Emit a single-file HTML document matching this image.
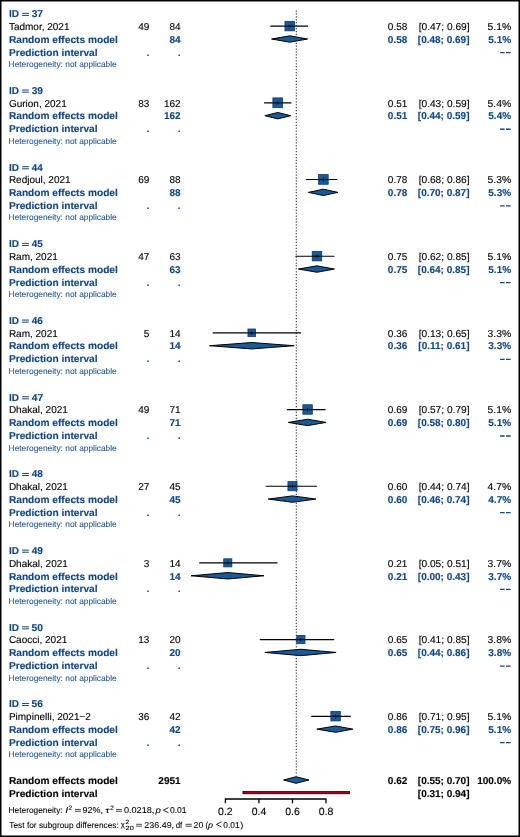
<!DOCTYPE html><html><head><meta charset="utf-8"><style>html,body{margin:0;padding:0;background:#fff;}svg{display:block;will-change:transform;}text{font-family:"Liberation Sans",sans-serif;text-rendering:geometricPrecision;}.b{font-weight:bold}.r{text-anchor:end}.m{text-anchor:middle}</style></head><body>
<svg width="520" height="837" viewBox="0 0 520 837" font-size="10">
<rect x="0" y="0" width="520" height="837" fill="#fff"/>
<line x1="296.30" y1="10.4" x2="296.30" y2="775.5" stroke="#3c3c3c" stroke-width="1.15" stroke-dasharray="1.25 1.68"/>
<text x="8.90" y="17.20" class="b" fill="#104683" stroke="#104683" stroke-width="0.12">ID</text>
<path d="M22.10 13.35H28.90M22.10 15.45H28.90" stroke="#104683" stroke-width="1.00" fill="none"/>
<text x="31.67" y="17.20" font-size="10" font-weight="bold" fill="#104683" stroke="#104683" stroke-width="0.12" textLength="11.38" lengthAdjust="spacingAndGlyphs">37</text>
<text x="8.90" y="29.98" stroke="#000" stroke-width="0.12">Tadmor, 2021</text>
<text x="149.40" y="29.98" class="r" stroke="#000" stroke-width="0.12">49</text>
<text x="180.60" y="29.98" class="r" stroke="#000" stroke-width="0.12">84</text>
<text x="407.30" y="29.98" class="r" stroke="#000" stroke-width="0.12">0.58</text>
<text x="418.68" y="29.98" font-size="10" stroke="#000" stroke-width="0.12" textLength="50.84" lengthAdjust="spacingAndGlyphs">[0.47; 0.69]</text>
<text x="487.52" y="29.98" font-size="10" stroke="#000" stroke-width="0.12" textLength="23.70" lengthAdjust="spacingAndGlyphs">5.1%</text>
<text x="8.92" y="42.76" font-size="10" font-weight="bold" fill="#104683" stroke="#104683" stroke-width="0.12" textLength="108.90" lengthAdjust="spacingAndGlyphs">Random effects model</text>
<text x="180.60" y="42.76" class="b r" fill="#104683" stroke="#104683" stroke-width="0.12">84</text>
<text x="407.30" y="42.76" class="b r" fill="#104683" stroke="#104683" stroke-width="0.12">0.58</text>
<text x="469.50" y="42.76" class="b r" fill="#104683" stroke="#104683" stroke-width="0.12">[0.48; 0.69]</text>
<text x="511.10" y="42.76" class="b r" fill="#104683" stroke="#104683" stroke-width="0.12">5.1%</text>
<text x="8.92" y="55.54" font-size="10" font-weight="bold" fill="#104683" stroke="#104683" stroke-width="0.12" textLength="88.70" lengthAdjust="spacingAndGlyphs">Prediction interval</text>
<text x="149.40" y="55.54" class="b r" fill="#104683" stroke="#104683" stroke-width="0.12">.</text>
<text x="180.60" y="55.54" class="b r" fill="#104683" stroke="#104683" stroke-width="0.12">.</text>
<path d="M500.1 52.59H504.6M506.0 52.59H510.6" stroke="#104683" stroke-width="1.3" fill="none"/>
<text x="8.62" y="67.12" font-size="8.4" fill="#1f5590" stroke="#1f5590" stroke-width="0.08" textLength="108.16" lengthAdjust="spacingAndGlyphs">Heterogeneity: not applicable</text>
<line x1="270.78" y1="26.18" x2="307.57" y2="26.18" stroke="#000" stroke-width="1.15" stroke-linecap="round"/>
<rect x="284.94" y="21.34" width="9.48" height="9.48" fill="#185b97" stroke="#0a3a70" stroke-width="0.8"/>
<line x1="284.94" y1="26.18" x2="294.43" y2="26.18" stroke="#000" stroke-width="1.15"/>
<path d="M289.69 24.08L290.44 26.18L289.69 28.28L288.94 26.18Z" fill="#000"/>
<path d="M271.56 39.01L289.69 35.81L307.57 39.01L289.69 42.21Z" fill="#185b97" stroke="#000" stroke-width="1" stroke-linejoin="miter" stroke-miterlimit="20"/>
<text x="8.90" y="93.88" class="b" fill="#104683" stroke="#104683" stroke-width="0.12">ID</text>
<path d="M22.10 90.03H28.90M22.10 92.13H28.90" stroke="#104683" stroke-width="1.00" fill="none"/>
<text x="31.67" y="93.88" font-size="10" font-weight="bold" fill="#104683" stroke="#104683" stroke-width="0.12" textLength="11.31" lengthAdjust="spacingAndGlyphs">39</text>
<text x="8.90" y="106.66" stroke="#000" stroke-width="0.12">Gurion, 2021</text>
<text x="149.40" y="106.66" class="r" stroke="#000" stroke-width="0.12">83</text>
<text x="180.60" y="106.66" class="r" stroke="#000" stroke-width="0.12">162</text>
<text x="407.30" y="106.66" class="r" stroke="#000" stroke-width="0.12">0.51</text>
<text x="418.68" y="106.66" font-size="10" stroke="#000" stroke-width="0.12" textLength="50.84" lengthAdjust="spacingAndGlyphs">[0.43; 0.59]</text>
<text x="487.52" y="106.66" font-size="10" stroke="#000" stroke-width="0.12" textLength="23.70" lengthAdjust="spacingAndGlyphs">5.4%</text>
<text x="8.92" y="119.44" font-size="10" font-weight="bold" fill="#104683" stroke="#104683" stroke-width="0.12" textLength="108.90" lengthAdjust="spacingAndGlyphs">Random effects model</text>
<text x="180.60" y="119.44" class="b r" fill="#104683" stroke="#104683" stroke-width="0.12">162</text>
<text x="407.30" y="119.44" class="b r" fill="#104683" stroke="#104683" stroke-width="0.12">0.51</text>
<text x="469.50" y="119.44" class="b r" fill="#104683" stroke="#104683" stroke-width="0.12">[0.44; 0.59]</text>
<text x="511.10" y="119.44" class="b r" fill="#104683" stroke="#104683" stroke-width="0.12">5.4%</text>
<text x="8.92" y="132.22" font-size="10" font-weight="bold" fill="#104683" stroke="#104683" stroke-width="0.12" textLength="88.70" lengthAdjust="spacingAndGlyphs">Prediction interval</text>
<text x="149.40" y="132.22" class="b r" fill="#104683" stroke="#104683" stroke-width="0.12">.</text>
<text x="180.60" y="132.22" class="b r" fill="#104683" stroke="#104683" stroke-width="0.12">.</text>
<path d="M500.1 129.27H504.6M506.0 129.27H510.6" stroke="#104683" stroke-width="1.3" fill="none"/>
<text x="8.62" y="143.80" font-size="8.4" fill="#1f5590" stroke="#1f5590" stroke-width="0.08" textLength="108.16" lengthAdjust="spacingAndGlyphs">Heterogeneity: not applicable</text>
<line x1="264.42" y1="102.86" x2="291.06" y2="102.86" stroke="#000" stroke-width="1.15" stroke-linecap="round"/>
<rect x="272.90" y="97.88" width="9.76" height="9.76" fill="#185b97" stroke="#0a3a70" stroke-width="0.8"/>
<line x1="272.90" y1="102.86" x2="282.66" y2="102.86" stroke="#000" stroke-width="1.15"/>
<path d="M277.78 100.76L278.53 102.86L277.78 104.96L277.03 102.86Z" fill="#000"/>
<path d="M264.85 115.69L277.78 112.49L290.80 115.69L277.78 118.89Z" fill="#185b97" stroke="#000" stroke-width="1" stroke-linejoin="miter" stroke-miterlimit="20"/>
<text x="8.90" y="170.56" class="b" fill="#104683" stroke="#104683" stroke-width="0.12">ID</text>
<path d="M22.10 166.71H28.90M22.10 168.81H28.90" stroke="#104683" stroke-width="1.00" fill="none"/>
<text x="31.75" y="170.56" font-size="10" font-weight="bold" fill="#104683" stroke="#104683" stroke-width="0.12" textLength="10.90" lengthAdjust="spacingAndGlyphs">44</text>
<text x="8.90" y="183.34" stroke="#000" stroke-width="0.12">Redjoul, 2021</text>
<text x="149.40" y="183.34" class="r" stroke="#000" stroke-width="0.12">69</text>
<text x="180.60" y="183.34" class="r" stroke="#000" stroke-width="0.12">88</text>
<text x="407.30" y="183.34" class="r" stroke="#000" stroke-width="0.12">0.78</text>
<text x="418.68" y="183.34" font-size="10" stroke="#000" stroke-width="0.12" textLength="50.84" lengthAdjust="spacingAndGlyphs">[0.68; 0.86]</text>
<text x="487.52" y="183.34" font-size="10" stroke="#000" stroke-width="0.12" textLength="23.70" lengthAdjust="spacingAndGlyphs">5.3%</text>
<text x="8.92" y="196.12" font-size="10" font-weight="bold" fill="#104683" stroke="#104683" stroke-width="0.12" textLength="108.90" lengthAdjust="spacingAndGlyphs">Random effects model</text>
<text x="180.60" y="196.12" class="b r" fill="#104683" stroke="#104683" stroke-width="0.12">88</text>
<text x="407.30" y="196.12" class="b r" fill="#104683" stroke="#104683" stroke-width="0.12">0.78</text>
<text x="469.50" y="196.12" class="b r" fill="#104683" stroke="#104683" stroke-width="0.12">[0.70; 0.87]</text>
<text x="511.10" y="196.12" class="b r" fill="#104683" stroke="#104683" stroke-width="0.12">5.3%</text>
<text x="8.92" y="208.90" font-size="10" font-weight="bold" fill="#104683" stroke="#104683" stroke-width="0.12" textLength="88.70" lengthAdjust="spacingAndGlyphs">Prediction interval</text>
<text x="149.40" y="208.90" class="b r" fill="#104683" stroke="#104683" stroke-width="0.12">.</text>
<text x="180.60" y="208.90" class="b r" fill="#104683" stroke="#104683" stroke-width="0.12">.</text>
<path d="M500.1 205.95H504.6M506.0 205.95H510.6" stroke="#104683" stroke-width="1.3" fill="none"/>
<text x="8.62" y="220.48" font-size="8.4" fill="#1f5590" stroke="#1f5590" stroke-width="0.08" textLength="108.16" lengthAdjust="spacingAndGlyphs">Heterogeneity: not applicable</text>
<line x1="306.49" y1="179.54" x2="336.87" y2="179.54" stroke="#000" stroke-width="1.15" stroke-linecap="round"/>
<rect x="318.52" y="174.61" width="9.67" height="9.67" fill="#185b97" stroke="#0a3a70" stroke-width="0.8"/>
<line x1="318.52" y1="179.54" x2="328.19" y2="179.54" stroke="#000" stroke-width="1.15"/>
<path d="M323.35 177.44L324.10 179.54L323.35 181.64L322.60 179.54Z" fill="#000"/>
<path d="M308.45 192.37L323.35 189.17L337.76 192.37L323.35 195.57Z" fill="#185b97" stroke="#000" stroke-width="1" stroke-linejoin="miter" stroke-miterlimit="20"/>
<text x="8.90" y="247.24" class="b" fill="#104683" stroke="#104683" stroke-width="0.12">ID</text>
<path d="M22.10 243.39H28.90M22.10 245.49H28.90" stroke="#104683" stroke-width="1.00" fill="none"/>
<text x="31.75" y="247.24" font-size="10" font-weight="bold" fill="#104683" stroke="#104683" stroke-width="0.12" textLength="11.13" lengthAdjust="spacingAndGlyphs">45</text>
<text x="8.90" y="260.02" stroke="#000" stroke-width="0.12">Ram, 2021</text>
<text x="149.40" y="260.02" class="r" stroke="#000" stroke-width="0.12">47</text>
<text x="180.60" y="260.02" class="r" stroke="#000" stroke-width="0.12">63</text>
<text x="407.30" y="260.02" class="r" stroke="#000" stroke-width="0.12">0.75</text>
<text x="418.68" y="260.02" font-size="10" stroke="#000" stroke-width="0.12" textLength="50.84" lengthAdjust="spacingAndGlyphs">[0.62; 0.85]</text>
<text x="487.52" y="260.02" font-size="10" stroke="#000" stroke-width="0.12" textLength="23.70" lengthAdjust="spacingAndGlyphs">5.1%</text>
<text x="8.92" y="272.80" font-size="10" font-weight="bold" fill="#104683" stroke="#104683" stroke-width="0.12" textLength="108.90" lengthAdjust="spacingAndGlyphs">Random effects model</text>
<text x="180.60" y="272.80" class="b r" fill="#104683" stroke="#104683" stroke-width="0.12">63</text>
<text x="407.30" y="272.80" class="b r" fill="#104683" stroke="#104683" stroke-width="0.12">0.75</text>
<text x="469.50" y="272.80" class="b r" fill="#104683" stroke="#104683" stroke-width="0.12">[0.64; 0.85]</text>
<text x="511.10" y="272.80" class="b r" fill="#104683" stroke="#104683" stroke-width="0.12">5.1%</text>
<text x="8.92" y="285.58" font-size="10" font-weight="bold" fill="#104683" stroke="#104683" stroke-width="0.12" textLength="88.70" lengthAdjust="spacingAndGlyphs">Prediction interval</text>
<text x="149.40" y="285.58" class="b r" fill="#104683" stroke="#104683" stroke-width="0.12">.</text>
<text x="180.60" y="285.58" class="b r" fill="#104683" stroke="#104683" stroke-width="0.12">.</text>
<path d="M500.1 282.63H504.6M506.0 282.63H510.6" stroke="#104683" stroke-width="1.3" fill="none"/>
<text x="8.62" y="297.16" font-size="8.4" fill="#1f5590" stroke="#1f5590" stroke-width="0.08" textLength="108.16" lengthAdjust="spacingAndGlyphs">Heterogeneity: not applicable</text>
<line x1="295.93" y1="256.22" x2="333.96" y2="256.22" stroke="#000" stroke-width="1.15" stroke-linecap="round"/>
<rect x="312.23" y="251.38" width="9.48" height="9.48" fill="#185b97" stroke="#0a3a70" stroke-width="0.8"/>
<line x1="312.23" y1="256.22" x2="321.71" y2="256.22" stroke="#000" stroke-width="1.15"/>
<path d="M316.97 254.12L317.72 256.22L316.97 258.32L316.22 256.22Z" fill="#000"/>
<path d="M298.39 269.05L316.97 265.85L334.40 269.05L316.97 272.25Z" fill="#185b97" stroke="#000" stroke-width="1" stroke-linejoin="miter" stroke-miterlimit="20"/>
<text x="8.90" y="323.92" class="b" fill="#104683" stroke="#104683" stroke-width="0.12">ID</text>
<path d="M22.10 320.07H28.90M22.10 322.17H28.90" stroke="#104683" stroke-width="1.00" fill="none"/>
<text x="31.75" y="323.92" font-size="10" font-weight="bold" fill="#104683" stroke="#104683" stroke-width="0.12" textLength="11.22" lengthAdjust="spacingAndGlyphs">46</text>
<text x="8.90" y="336.70" stroke="#000" stroke-width="0.12">Ram, 2021</text>
<text x="149.40" y="336.70" class="r" stroke="#000" stroke-width="0.12">5</text>
<text x="180.60" y="336.70" class="r" stroke="#000" stroke-width="0.12">14</text>
<text x="407.30" y="336.70" class="r" stroke="#000" stroke-width="0.12">0.36</text>
<text x="418.68" y="336.70" font-size="10" stroke="#000" stroke-width="0.12" textLength="50.84" lengthAdjust="spacingAndGlyphs">[0.13; 0.65]</text>
<text x="487.52" y="336.70" font-size="10" stroke="#000" stroke-width="0.12" textLength="23.70" lengthAdjust="spacingAndGlyphs">3.3%</text>
<text x="8.92" y="349.48" font-size="10" font-weight="bold" fill="#104683" stroke="#104683" stroke-width="0.12" textLength="108.90" lengthAdjust="spacingAndGlyphs">Random effects model</text>
<text x="180.60" y="349.48" class="b r" fill="#104683" stroke="#104683" stroke-width="0.12">14</text>
<text x="407.30" y="349.48" class="b r" fill="#104683" stroke="#104683" stroke-width="0.12">0.36</text>
<text x="469.50" y="349.48" class="b r" fill="#104683" stroke="#104683" stroke-width="0.12">[0.11; 0.61]</text>
<text x="511.10" y="349.48" class="b r" fill="#104683" stroke="#104683" stroke-width="0.12">3.3%</text>
<text x="8.92" y="362.26" font-size="10" font-weight="bold" fill="#104683" stroke="#104683" stroke-width="0.12" textLength="88.70" lengthAdjust="spacingAndGlyphs">Prediction interval</text>
<text x="149.40" y="362.26" class="b r" fill="#104683" stroke="#104683" stroke-width="0.12">.</text>
<text x="180.60" y="362.26" class="b r" fill="#104683" stroke="#104683" stroke-width="0.12">.</text>
<path d="M500.1 359.31H504.6M506.0 359.31H510.6" stroke="#104683" stroke-width="1.3" fill="none"/>
<text x="8.62" y="373.84" font-size="8.4" fill="#1f5590" stroke="#1f5590" stroke-width="0.08" textLength="108.16" lengthAdjust="spacingAndGlyphs">Heterogeneity: not applicable</text>
<line x1="213.26" y1="332.90" x2="300.63" y2="332.90" stroke="#000" stroke-width="1.15" stroke-linecap="round"/>
<rect x="247.94" y="328.99" width="7.63" height="7.63" fill="#185b97" stroke="#0a3a70" stroke-width="0.8"/>
<line x1="247.94" y1="332.90" x2="255.57" y2="332.90" stroke="#000" stroke-width="1.15"/>
<path d="M251.75 330.80L252.50 332.90L251.75 335.00L251.00 332.90Z" fill="#000"/>
<path d="M209.51 345.73L251.75 342.53L294.16 345.73L251.75 348.93Z" fill="#185b97" stroke="#000" stroke-width="1" stroke-linejoin="miter" stroke-miterlimit="20"/>
<text x="8.90" y="400.60" class="b" fill="#104683" stroke="#104683" stroke-width="0.12">ID</text>
<path d="M22.10 396.75H28.90M22.10 398.85H28.90" stroke="#104683" stroke-width="1.00" fill="none"/>
<text x="31.75" y="400.60" font-size="10" font-weight="bold" fill="#104683" stroke="#104683" stroke-width="0.12" textLength="11.30" lengthAdjust="spacingAndGlyphs">47</text>
<text x="8.90" y="413.38" stroke="#000" stroke-width="0.12">Dhakal, 2021</text>
<text x="149.40" y="413.38" class="r" stroke="#000" stroke-width="0.12">49</text>
<text x="180.60" y="413.38" class="r" stroke="#000" stroke-width="0.12">71</text>
<text x="407.30" y="413.38" class="r" stroke="#000" stroke-width="0.12">0.69</text>
<text x="418.68" y="413.38" font-size="10" stroke="#000" stroke-width="0.12" textLength="50.84" lengthAdjust="spacingAndGlyphs">[0.57; 0.79]</text>
<text x="487.52" y="413.38" font-size="10" stroke="#000" stroke-width="0.12" textLength="23.70" lengthAdjust="spacingAndGlyphs">5.1%</text>
<text x="8.92" y="426.16" font-size="10" font-weight="bold" fill="#104683" stroke="#104683" stroke-width="0.12" textLength="108.90" lengthAdjust="spacingAndGlyphs">Random effects model</text>
<text x="180.60" y="426.16" class="b r" fill="#104683" stroke="#104683" stroke-width="0.12">71</text>
<text x="407.30" y="426.16" class="b r" fill="#104683" stroke="#104683" stroke-width="0.12">0.69</text>
<text x="469.50" y="426.16" class="b r" fill="#104683" stroke="#104683" stroke-width="0.12">[0.58; 0.80]</text>
<text x="511.10" y="426.16" class="b r" fill="#104683" stroke="#104683" stroke-width="0.12">5.1%</text>
<text x="8.92" y="438.94" font-size="10" font-weight="bold" fill="#104683" stroke="#104683" stroke-width="0.12" textLength="88.70" lengthAdjust="spacingAndGlyphs">Prediction interval</text>
<text x="149.40" y="438.94" class="b r" fill="#104683" stroke="#104683" stroke-width="0.12">.</text>
<text x="180.60" y="438.94" class="b r" fill="#104683" stroke="#104683" stroke-width="0.12">.</text>
<path d="M500.1 435.99H504.6M506.0 435.99H510.6" stroke="#104683" stroke-width="1.3" fill="none"/>
<text x="8.62" y="450.52" font-size="8.4" fill="#1f5590" stroke="#1f5590" stroke-width="0.08" textLength="108.16" lengthAdjust="spacingAndGlyphs">Heterogeneity: not applicable</text>
<line x1="287.32" y1="409.58" x2="325.11" y2="409.58" stroke="#000" stroke-width="1.15" stroke-linecap="round"/>
<rect x="302.85" y="404.74" width="9.48" height="9.48" fill="#185b97" stroke="#0a3a70" stroke-width="0.8"/>
<line x1="302.85" y1="409.58" x2="312.34" y2="409.58" stroke="#000" stroke-width="1.15"/>
<path d="M307.60 407.48L308.35 409.58L307.60 411.68L306.85 409.58Z" fill="#000"/>
<path d="M288.33 422.41L307.60 419.21L326.02 422.41L307.60 425.61Z" fill="#185b97" stroke="#000" stroke-width="1" stroke-linejoin="miter" stroke-miterlimit="20"/>
<text x="8.90" y="477.28" class="b" fill="#104683" stroke="#104683" stroke-width="0.12">ID</text>
<path d="M22.10 473.43H28.90M22.10 475.53H28.90" stroke="#104683" stroke-width="1.00" fill="none"/>
<text x="31.75" y="477.28" font-size="10" font-weight="bold" fill="#104683" stroke="#104683" stroke-width="0.12" textLength="11.16" lengthAdjust="spacingAndGlyphs">48</text>
<text x="8.90" y="490.06" stroke="#000" stroke-width="0.12">Dhakal, 2021</text>
<text x="149.40" y="490.06" class="r" stroke="#000" stroke-width="0.12">27</text>
<text x="180.60" y="490.06" class="r" stroke="#000" stroke-width="0.12">45</text>
<text x="407.30" y="490.06" class="r" stroke="#000" stroke-width="0.12">0.60</text>
<text x="418.68" y="490.06" font-size="10" stroke="#000" stroke-width="0.12" textLength="50.84" lengthAdjust="spacingAndGlyphs">[0.44; 0.74]</text>
<text x="487.52" y="490.06" font-size="10" stroke="#000" stroke-width="0.12" textLength="23.70" lengthAdjust="spacingAndGlyphs">4.7%</text>
<text x="8.92" y="502.84" font-size="10" font-weight="bold" fill="#104683" stroke="#104683" stroke-width="0.12" textLength="108.90" lengthAdjust="spacingAndGlyphs">Random effects model</text>
<text x="180.60" y="502.84" class="b r" fill="#104683" stroke="#104683" stroke-width="0.12">45</text>
<text x="407.30" y="502.84" class="b r" fill="#104683" stroke="#104683" stroke-width="0.12">0.60</text>
<text x="469.50" y="502.84" class="b r" fill="#104683" stroke="#104683" stroke-width="0.12">[0.46; 0.74]</text>
<text x="511.10" y="502.84" class="b r" fill="#104683" stroke="#104683" stroke-width="0.12">4.7%</text>
<text x="8.92" y="515.62" font-size="10" font-weight="bold" fill="#104683" stroke="#104683" stroke-width="0.12" textLength="88.70" lengthAdjust="spacingAndGlyphs">Prediction interval</text>
<text x="149.40" y="515.62" class="b r" fill="#104683" stroke="#104683" stroke-width="0.12">.</text>
<text x="180.60" y="515.62" class="b r" fill="#104683" stroke="#104683" stroke-width="0.12">.</text>
<path d="M500.1 512.67H504.6M506.0 512.67H510.6" stroke="#104683" stroke-width="1.3" fill="none"/>
<text x="8.62" y="527.20" font-size="8.4" fill="#1f5590" stroke="#1f5590" stroke-width="0.08" textLength="108.16" lengthAdjust="spacingAndGlyphs">Heterogeneity: not applicable</text>
<line x1="266.20" y1="486.26" x2="316.47" y2="486.26" stroke="#000" stroke-width="1.15" stroke-linecap="round"/>
<rect x="287.93" y="481.61" width="9.11" height="9.11" fill="#185b97" stroke="#0a3a70" stroke-width="0.8"/>
<line x1="287.93" y1="486.26" x2="297.03" y2="486.26" stroke="#000" stroke-width="1.15"/>
<path d="M292.48 484.16L293.23 486.26L292.48 488.36L291.73 486.26Z" fill="#000"/>
<path d="M268.20 499.09L292.48 495.89L315.96 499.09L292.48 502.29Z" fill="#185b97" stroke="#000" stroke-width="1" stroke-linejoin="miter" stroke-miterlimit="20"/>
<text x="8.90" y="553.96" class="b" fill="#104683" stroke="#104683" stroke-width="0.12">ID</text>
<path d="M22.10 550.11H28.90M22.10 552.21H28.90" stroke="#104683" stroke-width="1.00" fill="none"/>
<text x="31.75" y="553.96" font-size="10" font-weight="bold" fill="#104683" stroke="#104683" stroke-width="0.12" textLength="11.23" lengthAdjust="spacingAndGlyphs">49</text>
<text x="8.90" y="566.74" stroke="#000" stroke-width="0.12">Dhakal, 2021</text>
<text x="149.40" y="566.74" class="r" stroke="#000" stroke-width="0.12">3</text>
<text x="180.60" y="566.74" class="r" stroke="#000" stroke-width="0.12">14</text>
<text x="407.30" y="566.74" class="r" stroke="#000" stroke-width="0.12">0.21</text>
<text x="418.68" y="566.74" font-size="10" stroke="#000" stroke-width="0.12" textLength="50.84" lengthAdjust="spacingAndGlyphs">[0.05; 0.51]</text>
<text x="487.52" y="566.74" font-size="10" stroke="#000" stroke-width="0.12" textLength="23.70" lengthAdjust="spacingAndGlyphs">3.7%</text>
<text x="8.92" y="579.52" font-size="10" font-weight="bold" fill="#104683" stroke="#104683" stroke-width="0.12" textLength="108.90" lengthAdjust="spacingAndGlyphs">Random effects model</text>
<text x="180.60" y="579.52" class="b r" fill="#104683" stroke="#104683" stroke-width="0.12">14</text>
<text x="407.30" y="579.52" class="b r" fill="#104683" stroke="#104683" stroke-width="0.12">0.21</text>
<text x="469.50" y="579.52" class="b r" fill="#104683" stroke="#104683" stroke-width="0.12">[0.00; 0.43]</text>
<text x="511.10" y="579.52" class="b r" fill="#104683" stroke="#104683" stroke-width="0.12">3.7%</text>
<text x="8.92" y="592.30" font-size="10" font-weight="bold" fill="#104683" stroke="#104683" stroke-width="0.12" textLength="88.70" lengthAdjust="spacingAndGlyphs">Prediction interval</text>
<text x="149.40" y="592.30" class="b r" fill="#104683" stroke="#104683" stroke-width="0.12">.</text>
<text x="180.60" y="592.30" class="b r" fill="#104683" stroke="#104683" stroke-width="0.12">.</text>
<path d="M500.1 589.35H504.6M506.0 589.35H510.6" stroke="#104683" stroke-width="1.3" fill="none"/>
<text x="8.62" y="603.88" font-size="8.4" fill="#1f5590" stroke="#1f5590" stroke-width="0.08" textLength="108.16" lengthAdjust="spacingAndGlyphs">Heterogeneity: not applicable</text>
<line x1="199.67" y1="562.94" x2="277.05" y2="562.94" stroke="#000" stroke-width="1.15" stroke-linecap="round"/>
<rect x="223.76" y="558.80" width="8.08" height="8.08" fill="#185b97" stroke="#0a3a70" stroke-width="0.8"/>
<line x1="223.76" y1="562.94" x2="231.84" y2="562.94" stroke="#000" stroke-width="1.15"/>
<path d="M227.80 560.84L228.55 562.94L227.80 565.04L227.05 562.94Z" fill="#000"/>
<path d="M191.06 575.77L227.80 572.57L263.97 575.77L227.80 578.97Z" fill="#185b97" stroke="#000" stroke-width="1" stroke-linejoin="miter" stroke-miterlimit="20"/>
<text x="8.90" y="630.64" class="b" fill="#104683" stroke="#104683" stroke-width="0.12">ID</text>
<path d="M22.10 626.79H28.90M22.10 628.89H28.90" stroke="#104683" stroke-width="1.00" fill="none"/>
<text x="31.58" y="630.64" font-size="10" font-weight="bold" fill="#104683" stroke="#104683" stroke-width="0.12" textLength="11.44" lengthAdjust="spacingAndGlyphs">50</text>
<text x="8.90" y="643.42" stroke="#000" stroke-width="0.12">Caocci, 2021</text>
<text x="149.40" y="643.42" class="r" stroke="#000" stroke-width="0.12">13</text>
<text x="180.60" y="643.42" class="r" stroke="#000" stroke-width="0.12">20</text>
<text x="407.30" y="643.42" class="r" stroke="#000" stroke-width="0.12">0.65</text>
<text x="418.68" y="643.42" font-size="10" stroke="#000" stroke-width="0.12" textLength="50.84" lengthAdjust="spacingAndGlyphs">[0.41; 0.85]</text>
<text x="487.52" y="643.42" font-size="10" stroke="#000" stroke-width="0.12" textLength="23.70" lengthAdjust="spacingAndGlyphs">3.8%</text>
<text x="8.92" y="656.20" font-size="10" font-weight="bold" fill="#104683" stroke="#104683" stroke-width="0.12" textLength="108.90" lengthAdjust="spacingAndGlyphs">Random effects model</text>
<text x="180.60" y="656.20" class="b r" fill="#104683" stroke="#104683" stroke-width="0.12">20</text>
<text x="407.30" y="656.20" class="b r" fill="#104683" stroke="#104683" stroke-width="0.12">0.65</text>
<text x="469.50" y="656.20" class="b r" fill="#104683" stroke="#104683" stroke-width="0.12">[0.44; 0.86]</text>
<text x="511.10" y="656.20" class="b r" fill="#104683" stroke="#104683" stroke-width="0.12">3.8%</text>
<text x="8.92" y="668.98" font-size="10" font-weight="bold" fill="#104683" stroke="#104683" stroke-width="0.12" textLength="88.70" lengthAdjust="spacingAndGlyphs">Prediction interval</text>
<text x="149.40" y="668.98" class="b r" fill="#104683" stroke="#104683" stroke-width="0.12">.</text>
<text x="180.60" y="668.98" class="b r" fill="#104683" stroke="#104683" stroke-width="0.12">.</text>
<path d="M500.1 666.03H504.6M506.0 666.03H510.6" stroke="#104683" stroke-width="1.3" fill="none"/>
<text x="8.62" y="680.56" font-size="8.4" fill="#1f5590" stroke="#1f5590" stroke-width="0.08" textLength="108.16" lengthAdjust="spacingAndGlyphs">Heterogeneity: not applicable</text>
<line x1="260.25" y1="639.62" x2="333.75" y2="639.62" stroke="#000" stroke-width="1.15" stroke-linecap="round"/>
<rect x="296.77" y="635.43" width="8.19" height="8.19" fill="#185b97" stroke="#0a3a70" stroke-width="0.8"/>
<line x1="296.77" y1="639.62" x2="304.96" y2="639.62" stroke="#000" stroke-width="1.15"/>
<path d="M300.87 637.52L301.62 639.62L300.87 641.72L300.12 639.62Z" fill="#000"/>
<path d="M264.85 652.45L300.87 649.25L336.08 652.45L300.87 655.65Z" fill="#185b97" stroke="#000" stroke-width="1" stroke-linejoin="miter" stroke-miterlimit="20"/>
<text x="8.90" y="707.32" class="b" fill="#104683" stroke="#104683" stroke-width="0.12">ID</text>
<path d="M22.10 703.47H28.90M22.10 705.57H28.90" stroke="#104683" stroke-width="1.00" fill="none"/>
<text x="31.59" y="707.32" font-size="10" font-weight="bold" fill="#104683" stroke="#104683" stroke-width="0.12" textLength="11.38" lengthAdjust="spacingAndGlyphs">56</text>
<text x="8.90" y="720.10" stroke="#000" stroke-width="0.12">Pimpinelli, 2021−2</text>
<text x="149.40" y="720.10" class="r" stroke="#000" stroke-width="0.12">36</text>
<text x="180.60" y="720.10" class="r" stroke="#000" stroke-width="0.12">42</text>
<text x="407.30" y="720.10" class="r" stroke="#000" stroke-width="0.12">0.86</text>
<text x="418.68" y="720.10" font-size="10" stroke="#000" stroke-width="0.12" textLength="50.84" lengthAdjust="spacingAndGlyphs">[0.71; 0.95]</text>
<text x="487.52" y="720.10" font-size="10" stroke="#000" stroke-width="0.12" textLength="23.70" lengthAdjust="spacingAndGlyphs">5.1%</text>
<text x="8.92" y="732.88" font-size="10" font-weight="bold" fill="#104683" stroke="#104683" stroke-width="0.12" textLength="108.90" lengthAdjust="spacingAndGlyphs">Random effects model</text>
<text x="180.60" y="732.88" class="b r" fill="#104683" stroke="#104683" stroke-width="0.12">42</text>
<text x="407.30" y="732.88" class="b r" fill="#104683" stroke="#104683" stroke-width="0.12">0.86</text>
<text x="469.50" y="732.88" class="b r" fill="#104683" stroke="#104683" stroke-width="0.12">[0.75; 0.96]</text>
<text x="511.10" y="732.88" class="b r" fill="#104683" stroke="#104683" stroke-width="0.12">5.1%</text>
<text x="8.92" y="745.66" font-size="10" font-weight="bold" fill="#104683" stroke="#104683" stroke-width="0.12" textLength="88.70" lengthAdjust="spacingAndGlyphs">Prediction interval</text>
<text x="149.40" y="745.66" class="b r" fill="#104683" stroke="#104683" stroke-width="0.12">.</text>
<text x="180.60" y="745.66" class="b r" fill="#104683" stroke="#104683" stroke-width="0.12">.</text>
<path d="M500.1 742.71H504.6M506.0 742.71H510.6" stroke="#104683" stroke-width="1.3" fill="none"/>
<text x="8.62" y="757.24" font-size="8.4" fill="#1f5590" stroke="#1f5590" stroke-width="0.08" textLength="108.16" lengthAdjust="spacingAndGlyphs">Heterogeneity: not applicable</text>
<line x1="311.70" y1="716.30" x2="350.46" y2="716.30" stroke="#000" stroke-width="1.15" stroke-linecap="round"/>
<rect x="330.86" y="711.46" width="9.48" height="9.48" fill="#185b97" stroke="#0a3a70" stroke-width="0.8"/>
<line x1="330.86" y1="716.30" x2="340.35" y2="716.30" stroke="#000" stroke-width="1.15"/>
<path d="M335.60 714.20L336.35 716.30L335.60 718.40L334.85 716.30Z" fill="#000"/>
<path d="M316.83 729.13L335.60 725.93L352.85 729.13L335.60 732.33Z" fill="#185b97" stroke="#000" stroke-width="1" stroke-linejoin="miter" stroke-miterlimit="20"/>
<text x="8.92" y="784.00" font-size="10" font-weight="bold" stroke="#000" stroke-width="0.12" textLength="108.90" lengthAdjust="spacingAndGlyphs">Random effects model</text>
<text x="180.60" y="784.00" class="b r" stroke="#000" stroke-width="0.12">2951</text>
<text x="407.30" y="784.00" class="b r" stroke="#000" stroke-width="0.12">0.62</text>
<text x="469.50" y="784.00" class="b r" stroke="#000" stroke-width="0.12">[0.55; 0.70]</text>
<text x="511.10" y="784.00" class="b r" stroke="#000" stroke-width="0.12">100.0%</text>
<text x="8.92" y="796.78" font-size="10" font-weight="bold" stroke="#000" stroke-width="0.12" textLength="88.70" lengthAdjust="spacingAndGlyphs">Prediction interval</text>
<text x="469.50" y="796.78" class="b r" stroke="#000" stroke-width="0.12">[0.31; 0.94]</text>
<path d="M283.59 780.00L296.00 776.70L308.91 780.00L296.00 783.30Z" fill="#185b97" stroke="#000" stroke-width="1" stroke-miterlimit="20"/>
<rect x="242.92" y="791.5" width="106.57" height="2.3" fill="#a3001f" stroke="#000" stroke-width="0.75"/>
<path d="M225.40 803.3V799H326.02V803.3" fill="none" stroke="#000" stroke-width="1.3"/>
<line x1="258.94" y1="799" x2="258.94" y2="803.3" stroke="#000" stroke-width="1.3"/>
<line x1="292.48" y1="799" x2="292.48" y2="803.3" stroke="#000" stroke-width="1.3"/>
<text x="225.40" y="815.00" class="m" font-size="10.5" stroke="#000" stroke-width="0.12">0.2</text>
<text x="258.94" y="815.00" class="m" font-size="10.5" stroke="#000" stroke-width="0.12">0.4</text>
<text x="292.48" y="815.00" class="m" font-size="10.5" stroke="#000" stroke-width="0.12">0.6</text>
<text x="326.02" y="815.00" class="m" font-size="10.5" stroke="#000" stroke-width="0.12">0.8</text>
<text x="8.62" y="813.40" font-size="8.5" stroke="#000" stroke-width="0.08" textLength="54.04" lengthAdjust="spacingAndGlyphs">Heterogeneity:</text>
<text x="65.18" y="813.40" font-size="8.5" font-style="italic" stroke="#000" stroke-width="0.08" textLength="2.94" lengthAdjust="spacingAndGlyphs">I</text>
<text x="68.57" y="809.90" font-size="6.5" stroke="#000" stroke-width="0.08" textLength="3.66" lengthAdjust="spacingAndGlyphs">2</text>
<path d="M75.00 809.45H80.90M75.00 811.25H80.90" stroke="#4a4a4a" stroke-width="1.00" fill="none"/>
<text x="82.48" y="813.40" font-size="8.5" stroke="#000" stroke-width="0.08" textLength="20.43" lengthAdjust="spacingAndGlyphs">92%,</text>
<text x="105.24" y="813.40" font-size="7.8" stroke="#000" stroke-width="0.08" textLength="4.35" lengthAdjust="spacingAndGlyphs">τ</text>
<text x="110.37" y="809.90" font-size="6.5" stroke="#000" stroke-width="0.08" textLength="3.66" lengthAdjust="spacingAndGlyphs">2</text>
<path d="M116.00 809.45H121.90M116.00 811.25H121.90" stroke="#4a4a4a" stroke-width="1.00" fill="none"/>
<text x="123.94" y="813.40" font-size="8.5" stroke="#000" stroke-width="0.08" textLength="30.37" lengthAdjust="spacingAndGlyphs">0.0218,</text>
<text x="155.64" y="813.40" font-size="8.5" font-style="italic" stroke="#000" stroke-width="0.08" textLength="5.37" lengthAdjust="spacingAndGlyphs">p</text>
<path d="M168.5 807.6L163.4 810.2L168.5 812.8" fill="none" stroke="#000" stroke-width="0.85"/>
<text x="169.97" y="813.40" font-size="8.5" stroke="#000" stroke-width="0.08" textLength="16.65" lengthAdjust="spacingAndGlyphs">0.01</text>
<text x="9.31" y="827.60" font-size="8.5" stroke="#000" stroke-width="0.08" textLength="109.54" lengthAdjust="spacingAndGlyphs">Test for subgroup differences:</text>
<text x="120.82" y="827.40" font-size="7.6" stroke="#000" stroke-width="0.08" textLength="4.07" lengthAdjust="spacingAndGlyphs">χ</text>
<text x="125.48" y="823.60" font-size="6.0" stroke="#000" stroke-width="0.08" textLength="3.54" lengthAdjust="spacingAndGlyphs">2</text>
<text x="125.53" y="829.50" font-size="6.0" stroke="#000" stroke-width="0.08" textLength="8.26" lengthAdjust="spacingAndGlyphs">20</text>
<path d="M136.10 824.30H141.90M136.10 826.20H141.90" stroke="#4a4a4a" stroke-width="1.00" fill="none"/>
<text x="144.35" y="827.60" font-size="8.5" stroke="#000" stroke-width="0.08" textLength="29.75" lengthAdjust="spacingAndGlyphs">236.49,</text>
<text x="175.67" y="827.60" font-size="8.5" stroke="#000" stroke-width="0.08" textLength="6.62" lengthAdjust="spacingAndGlyphs">df</text>
<path d="M185.50 824.30H191.80M185.50 826.20H191.80" stroke="#4a4a4a" stroke-width="1.00" fill="none"/>
<text x="193.56" y="827.60" font-size="8.5" stroke="#000" stroke-width="0.08" textLength="9.68" lengthAdjust="spacingAndGlyphs">20</text>
<text x="205.41" y="827.60" font-size="8.5" stroke="#000" stroke-width="0.08" textLength="2.64" lengthAdjust="spacingAndGlyphs">(</text>
<text x="208.12" y="827.60" font-size="8.5" font-style="italic" stroke="#000" stroke-width="0.08" textLength="4.97" lengthAdjust="spacingAndGlyphs">p</text>
<path d="M221.5 821.8L216.4 824.4L221.5 827.0" fill="none" stroke="#000" stroke-width="0.85"/>
<text x="223.27" y="827.60" font-size="8.5" stroke="#000" stroke-width="0.08" textLength="16.34" lengthAdjust="spacingAndGlyphs">0.01</text>
<text x="240.34" y="827.60" font-size="8.5" stroke="#000" stroke-width="0.08" textLength="3.14" lengthAdjust="spacingAndGlyphs">)</text>
<rect x="0.75" y="0.75" width="518.5" height="835.5" fill="none" stroke="#000" stroke-width="1.5"/>
</svg></body></html>
